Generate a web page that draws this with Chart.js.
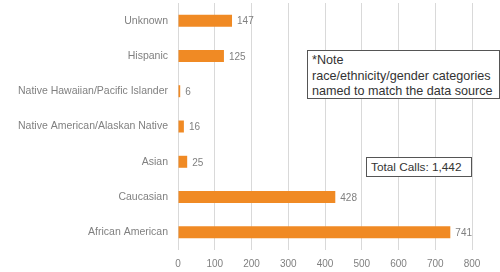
<!DOCTYPE html>
<html><head><meta charset="utf-8">
<script src="https://cdn.jsdelivr.net/npm/chart.js@4/dist/chart.umd.min.js"></script>
<style>
html,body{margin:0;padding:0;background:#fff;}
#wrap{position:relative;width:500px;height:272px;}
canvas{display:block;}
.box{position:absolute;border:1px solid #555;background:#fff;font-family:"Liberation Sans",sans-serif;color:#333;box-sizing:border-box;white-space:nowrap;}
</style></head><body>
<div id="wrap"><canvas id="c" width="500" height="272"></canvas>
<div class="box" id="note" style="left:307px;top:50px;width:193px;height:49px;font-size:12.6px;line-height:15.5px;padding:2px 0 0 4px;">*Note<br>race/ethnicity/gender categories<br>named to match the data source</div>
<div class="box" id="total" style="left:366px;top:157px;width:106px;height:20px;font-size:11.8px;line-height:18px;padding-left:4px;">Total Calls: 1,442</div>
</div>
<script>
const categories = ["Unknown","Hispanic","Native Hawaiian/Pacific Islander","Native American/Alaskan Native","Asian","Caucasian","African American"];
const values = [147,125,6,16,25,428,741];
const xTicks = [0,100,200,300,400,500,600,700,800];

const labelPlugin = {
  id:'valLabels',
  afterDatasetsDraw(chart){
    const ctx = chart.ctx;
    const meta = chart.getDatasetMeta(0);
    ctx.save();
    ctx.font = '10px "Liberation Sans", sans-serif';
    ctx.fillStyle = '#808080';
    ctx.textBaseline = 'middle';
    ctx.textAlign = 'left';
    meta.data.forEach((bar,i)=>{
      ctx.fillText(String(values[i]), bar.x + 5, bar.y + 1);
    });
    ctx.restore();
  }
};

new Chart(document.getElementById('c'),{
  type:'bar',
  data:{labels:categories,datasets:[{data:values,backgroundColor:'#F08A24',barPercentage:0.34,categoryPercentage:1}]},
  options:{
    indexAxis:'y',responsive:false,animation:false,
    layout:{padding:{top:3,right:28,bottom:0,left:0}},
    plugins:{legend:{display:false},tooltip:{enabled:false}},
    scales:{
      x:{min:0,max:800,
        afterBuildTicks(s){s.ticks = xTicks.map(v=>({value:v}));},
        afterFit(s){s.height=22;s.paddingLeft=0;s.paddingRight=0;},
        grid:{color:'#d9d9d9',drawTicks:false},
        border:{display:false},
        ticks:{color:'#808080',font:{family:'Liberation Sans',size:10},padding:8}},
      y:{grid:{display:false,drawTicks:false},border:{display:false},
        afterFit(s){s.width=178;s.paddingTop=0;s.paddingBottom=0;},
        ticks:{color:'#808080',font:{family:'Liberation Sans',size:10.5},padding:10}}
    }
  },
  plugins:[labelPlugin]
});
</script>
</body></html>
